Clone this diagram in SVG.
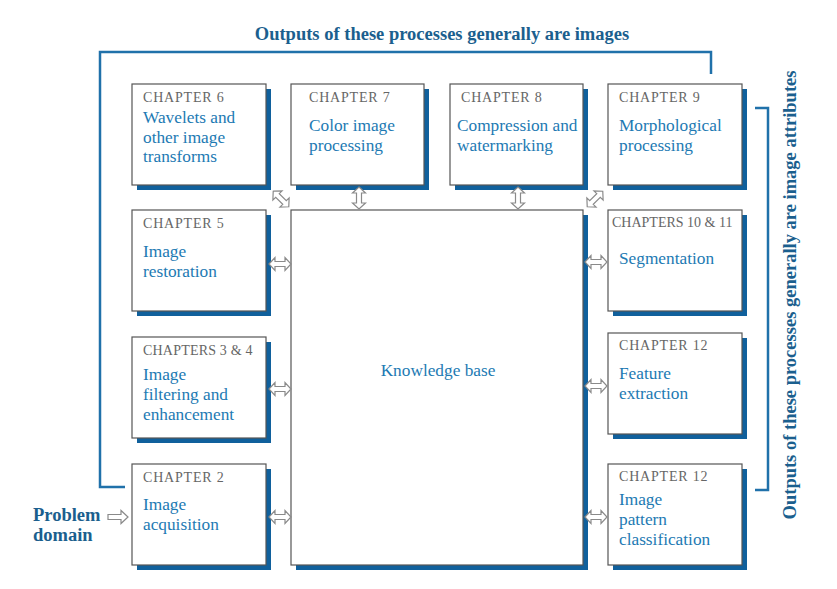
<svg xmlns="http://www.w3.org/2000/svg" width="837" height="589" viewBox="0 0 837 589">
<style>
.sh{fill:#10609c}
.bx{fill:#fff;stroke:#555;stroke-width:1.2}
.ch{font-family:"Liberation Serif",serif;font-size:14px;fill:#666;letter-spacing:0.8px}
.tx{font-family:"Liberation Serif",serif;font-size:17.3px;fill:#1d7ab3}
.hd{font-family:"Liberation Serif",serif;font-size:18.5px;font-weight:bold;fill:#1b5f8e}
.br{fill:none;stroke:#2071aa;stroke-width:2.5}
.ar{fill:#fff;stroke:#8a8a8a;stroke-width:1.2;stroke-linejoin:miter}
</style>
<defs>
<polygon id="dbl" points="-11,0 -5,-6.5 -5,-2.5 5,-2.5 5,-6.5 11,0 5,6.5 5,2.5 -5,2.5 -5,6.5"/>
<polygon id="sgl" points="-10,-2.5 3,-2.5 3,-6.5 10,0 3,6.5 3,2.5 -10,2.5"/>
</defs>
<rect width="837" height="589" fill="#fff"/>

<g id="labels">
<text class="hd" x="442" y="40" text-anchor="middle">Outputs of these processes generally are images</text>
<text class="hd" transform="translate(796,295) rotate(-90)" text-anchor="middle">Outputs of these processes generally are image attributes</text>
<text class="hd" x="33" y="521">Problem</text>
<text class="hd" x="33" y="541">domain</text>
</g>

<g id="ch6"><rect class="sh" x="137" y="89" width="134" height="101"/><rect class="bx" x="132" y="84" width="134" height="101"/>
<text class="ch" x="143" y="102">CHAPTER 6</text>
<text class="tx" x="143" y="123">Wavelets and</text><text class="tx" x="143" y="143">other image</text><text class="tx" x="143" y="162">transforms</text></g>

<g id="ch7"><rect class="sh" x="296" y="89" width="133" height="101"/><rect class="bx" x="291" y="84" width="133" height="101"/>
<text class="ch" x="309" y="102">CHAPTER 7</text>
<text class="tx" x="309" y="131">Color image</text><text class="tx" x="309" y="151">processing</text></g>

<g id="ch8"><rect class="sh" x="455" y="89" width="133" height="101"/><rect class="bx" x="450" y="84" width="133" height="101"/>
<text class="ch" x="461" y="102">CHAPTER 8</text>
<text class="tx" x="457" y="131">Compression and</text><text class="tx" x="457" y="151">watermarking</text></g>

<g id="ch9"><rect class="sh" x="613" y="89" width="134" height="101"/><rect class="bx" x="608" y="84" width="134" height="101"/>
<text class="ch" x="619" y="102">CHAPTER 9</text>
<text class="tx" x="619" y="131">Morphological</text><text class="tx" x="619" y="151">processing</text></g>

<g id="ch5"><rect class="sh" x="137" y="215" width="134" height="101"/><rect class="bx" x="132" y="210" width="134" height="101"/>
<text class="ch" x="143" y="228">CHAPTER 5</text>
<text class="tx" x="143" y="257">Image</text><text class="tx" x="143" y="277">restoration</text></g>

<g id="ch34"><rect class="sh" x="137" y="342" width="134" height="101"/><rect class="bx" x="132" y="337" width="134" height="101"/>
<text class="ch" x="143" y="355" style="letter-spacing:0.2px">CHAPTERS 3 &amp; 4</text>
<text class="tx" x="143" y="380">Image</text><text class="tx" x="143" y="400">filtering and</text><text class="tx" x="143" y="420">enhancement</text></g>

<g id="ch2"><rect class="sh" x="137" y="469" width="134" height="101"/><rect class="bx" x="132" y="464" width="134" height="101"/>
<text class="ch" x="143" y="482">CHAPTER 2</text>
<text class="tx" x="143" y="510">Image</text><text class="tx" x="143" y="530">acquisition</text></g>

<g id="kb"><rect class="sh" x="296" y="215" width="292" height="355"/><rect class="bx" x="291" y="210" width="292" height="355"/>
<text class="tx" x="438" y="376" text-anchor="middle">Knowledge base</text></g>

<g id="ch1011"><rect class="sh" x="613" y="215" width="134" height="101"/><rect class="bx" x="608" y="210" width="134" height="101"/>
<text class="ch" x="612" y="227" style="letter-spacing:0">CHAPTERS 10 &amp; 11</text>
<text class="tx" x="619" y="264">Segmentation</text></g>

<g id="ch12a"><rect class="sh" x="613" y="338" width="134" height="101"/><rect class="bx" x="608" y="333" width="134" height="101"/>
<text class="ch" x="619" y="350">CHAPTER 12</text>
<text class="tx" x="619" y="379">Feature</text><text class="tx" x="619" y="399">extraction</text></g>

<g id="ch12b"><rect class="sh" x="613" y="469" width="134" height="101"/><rect class="bx" x="608" y="464" width="134" height="101"/>
<text class="ch" x="619" y="481">CHAPTER 12</text>
<text class="tx" x="619" y="505">Image</text><text class="tx" x="619" y="525">pattern</text><text class="tx" x="619" y="545">classification</text></g>

<g id="connectors">
<polyline class="br" points="125,487 100,487 100,52 711,52 711,74"/>
<polyline class="br" points="755,108 768,108 768,490 755,490"/>
<use href="#sgl" class="ar" transform="translate(118,517)"/>
<use href="#dbl" class="ar" transform="translate(281,199) rotate(45)"/>
<use href="#dbl" class="ar" transform="translate(359,198) rotate(90)"/>
<use href="#dbl" class="ar" transform="translate(518,198) rotate(90)"/>
<use href="#dbl" class="ar" transform="translate(595,199) rotate(-45)"/>
<use href="#dbl" class="ar" transform="translate(280,264)"/>
<use href="#dbl" class="ar" transform="translate(280,389)"/>
<use href="#dbl" class="ar" transform="translate(280,517)"/>
<use href="#dbl" class="ar" transform="translate(596,262)"/>
<use href="#dbl" class="ar" transform="translate(596,386)"/>
<use href="#dbl" class="ar" transform="translate(596,517)"/>
</g>
</svg>
